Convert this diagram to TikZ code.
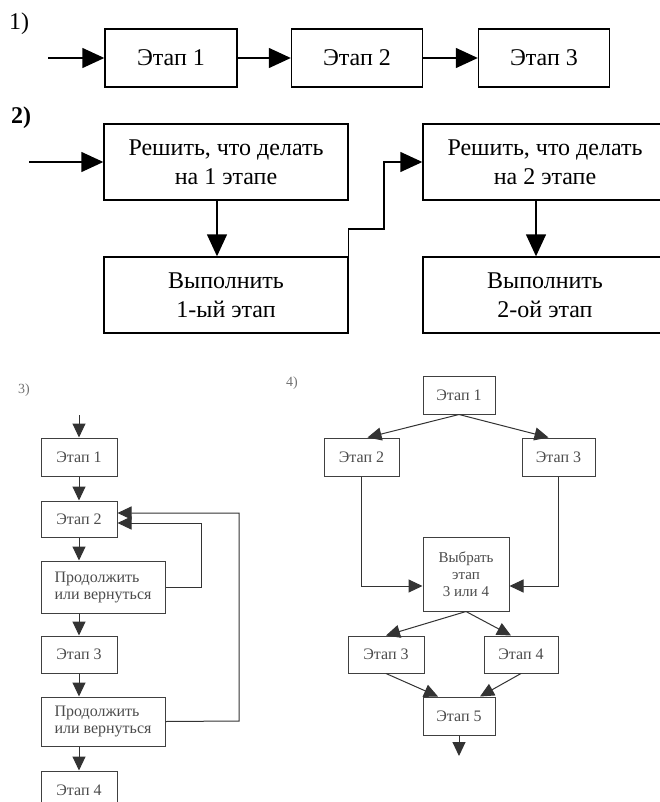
\documentclass[tikz,border=0pt]{standalone}
\usepackage{fontspec}
\setmainfont{Liberation Serif}
\usetikzlibrary{arrows.meta}

\begin{document}
\begin{tikzpicture}[x=1pt,y=-1pt,
    bigbox/.style={draw,line width=1.4pt,inner sep=0pt,align=center,font=\fontsize{24}{29}\selectfont},
    smallbox/.style={draw=black!75,line width=1pt,inner sep=0pt,align=left,text=black!70,font=\fontsize{16}{17}\selectfont},
    bigarrow/.style={line width=1.4pt,-{Triangle[length=22pt,width=20pt]}},
    smallarrow/.style={draw=black!80,line width=1pt,-{Triangle[length=14pt,width=13pt]}},
    lbl/.style={inner sep=0pt}]
      \useasboundingbox (0,0) rectangle (660,802);
      \fill[white] (0,0) rectangle (660,802);
      % 1)
      \node[lbl,font=\fontsize{24}{29}\selectfont] (n1) at (19,24) {1)};
      \node[bigbox,minimum width=132pt,minimum height=58pt] (s1) at (171,58) {Этап 1};
      \node[bigbox,minimum width=131pt,minimum height=58pt] (s2) at (357,58) {Этап 2};
      \node[bigbox,minimum width=131pt,minimum height=58pt] (s3) at (544,58) {Этап 3};
      \coordinate (in1) at (48,58);
      \draw[bigarrow] (in1) -- (s1); \draw[bigarrow] (s1) -- (s2); \draw[bigarrow] (s2) -- (s3);
      % 2)
      \node[lbl,font=\bfseries\fontsize{24}{29}\selectfont] (n2) at (21,118) {2)};
      \node[bigbox,minimum width=244pt,minimum height=76pt] (a1) at (226,162) {Решить, что делать\\на 1 этапе};
      \node[bigbox,minimum width=244pt,minimum height=76pt] (b1) at (226,295) {Выполнить\\1-ый этап};
      \node[bigbox,minimum width=244pt,minimum height=76pt] (a2) at (545,162) {Решить, что делать\\на 2 этапе};
      \node[bigbox,minimum width=244pt,minimum height=76pt] (b2) at (545,295) {Выполнить\\2-ой этап};
      \coordinate (in2) at (29,162);
      \coordinate (k1) at (384,229);
      \draw[bigarrow] (in2) -- (a1);
      \draw[bigarrow] ([xshift=-9pt]a1.south) -- ([xshift=-9pt]b1.north);
      \draw[bigarrow] ([xshift=-9pt]a2.south) -- ([xshift=-9pt]b2.north);
      \draw[bigarrow] (b1.north east) |- (k1) |- (a2.west);
      % 3)
      \node[lbl,text=black!55,font=\fontsize{14}{16}\selectfont] (n3) at (24,390) {3)};
      \node[smallbox,minimum width=76pt,minimum height=38pt] (e1) at (79,457) {Этап 1};
      \node[smallbox,minimum width=76pt,minimum height=36pt] (e2) at (79,519) {Этап 2};
      \node[smallbox,minimum width=124pt,minimum height=52pt] (p1) at (103,587) {Продолжить\\или вернуться};
      \node[smallbox,minimum width=76pt,minimum height=37pt] (e3) at (79,654.5) {Этап 3};
      \node[smallbox,minimum width=124pt,minimum height=49pt] (p2) at (103,721.5) {Продолжить\\или вернуться};
      \node[smallbox,minimum width=76pt,minimum height=38pt] (e4) at (79,790) {Этап 4};
      \coordinate (in3) at (79,415);
      \coordinate (r1) at (201,587);
      \coordinate (r2) at (239,721);
      \draw[smallarrow] (in3) -- (e1); \draw[smallarrow] (e1) -- (e2);
      \draw[smallarrow] (e2) -- (e2 |- p1.north);
      \draw[smallarrow] (p1.south -| e3) -- (e3);
      \draw[smallarrow] (e3) -- (e3 |- p2.north);
      \draw[smallarrow] (p2.south -| e4) -- (e4);
      \draw[smallarrow] (p1.east) -- (r1) |- ([yshift=-4pt]e2.east);
      \draw[smallarrow] (p2.east) -- (r2) |- ([yshift=6pt]e2.east);
      % 4)
      \node[lbl,text=black!55,font=\fontsize{14}{16}\selectfont] (n4) at (292,383) {4)};
      \node[smallbox,minimum width=72pt,minimum height=38pt] (t1) at (459,395) {Этап 1};
      \node[smallbox,minimum width=75pt,minimum height=38pt] (t2) at (361.5,457) {Этап 2};
      \node[smallbox,minimum width=73pt,minimum height=38pt] (t3) at (558.5,457) {Этап 3};
      \node[smallbox,align=center,font=\fontsize{15}{17}\selectfont,minimum width=86pt,minimum height=74pt] (v) at (466,574) {Выбрать\\этап\\3 или 4};
      \node[smallbox,minimum width=76pt,minimum height=37pt] (u3) at (386,654.5) {Этап 3};
      \node[smallbox,minimum width=74pt,minimum height=37pt] (u4) at (521,654.5) {Этап 4};
      \node[smallbox,minimum width=72pt,minimum height=38pt] (u5) at (459,716) {Этап 5};
      \coordinate (out4) at (459,756);
      \draw[smallarrow] (t1.south) -- ([xshift=6pt]t2.north);
      \draw[smallarrow] (t1.south) -- ([xshift=-10pt]t3.north);
      \draw[smallarrow] (t2.south) |- ([yshift=-12pt]v.west);
      \draw[smallarrow] (t3.south) |- ([yshift=-12pt]v.east);
      \draw[smallarrow] (v.south) -- (u3.north);
      \draw[smallarrow] (v.south) -- ([xshift=-10pt]u4.north);
      \draw[smallarrow] (u3.south) -- ([xshift=-21pt]u5.north);
      \draw[smallarrow] (u4.south) -- ([xshift=21pt]u5.north);
      \draw[smallarrow] (u5.south) -- (out4);
    \end{tikzpicture}
\end{document}
